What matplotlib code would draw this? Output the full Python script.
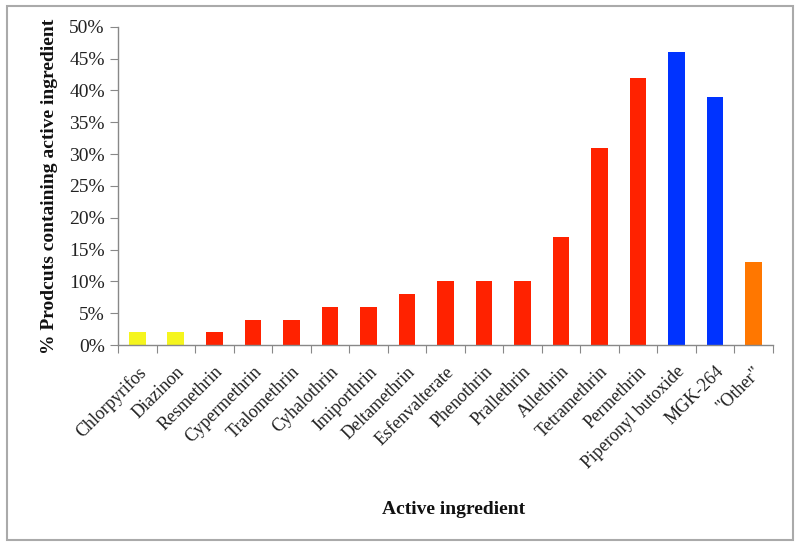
import matplotlib
matplotlib.use("Agg")
import matplotlib.pyplot as plt
from matplotlib.patches import Rectangle
from matplotlib.ticker import FuncFormatter, FixedLocator
import matplotlib.transforms as mtransforms
import numpy as np

categories = ["Chlorpyrifos", "Diazinon", "Resmethrin", "Cypermethrin", "Tralomethrin",
              "Cyhalothrin", "Imiporthrin", "Deltamethrin", "Esfenvalterate", "Phenothrin",
              "Prallethrin", "Allethrin", "Tetramethrin", "Permethrin", "Piperonyl butoxide",
              "MGK-264", "\"Other\""]
values = [2, 2, 2, 4, 4, 6, 6, 8, 10, 10, 10, 17, 31, 42, 46, 39, 13]
groups = ["op", "op", "pyr", "pyr", "pyr", "pyr", "pyr", "pyr", "pyr", "pyr", "pyr",
          "pyr", "pyr", "pyr", "syn", "syn", "oth"]
group_colors = {"op": "#F5F51E", "pyr": "#FF2200", "syn": "#0033FF", "oth": "#FF7700"}

plt.rcParams['font.family'] = ['Liberation Serif', 'DejaVu Serif']

fig = plt.figure(figsize=(8, 5.47), dpi=100)
ax = fig.add_axes([0.1475, 0.369, 0.8185, 0.582])

x = np.arange(len(categories))
ax.bar(x, values, width=0.43, color=[group_colors[g] for g in groups], zorder=2)

ax.set_xlim(-0.5, len(categories) - 0.5)
ax.set_ylim(0, 50)
ax.set_yticks(np.arange(0, 51, 5))
ax.yaxis.set_major_formatter(FuncFormatter(lambda v, p: f"{int(v)}%"))

ax.xaxis.set_major_locator(FixedLocator(np.arange(-0.5, len(categories), 1.0)))
ax.xaxis.set_minor_locator(FixedLocator(x))
ax.set_xticklabels([])
labels = ax.set_xticklabels(categories, minor=True, rotation=45, ha='right',
                            rotation_mode='anchor', fontsize=13, color='#222222')
offset = mtransforms.ScaledTranslation(5 / 100, 0, fig.dpi_scale_trans)
for lab in labels:
    lab.set_transform(lab.get_transform() + offset)
ax.tick_params(axis='x', which='major', length=6, color='#888888', direction='out')
ax.tick_params(axis='x', which='minor', length=0, pad=13)
ax.tick_params(axis='y', length=6, color='#888888', labelsize=14, labelcolor='#222222')

for s in ['top', 'right']:
    ax.spines[s].set_visible(False)
for s in ['left', 'bottom']:
    ax.spines[s].set_color('#888888')
    ax.spines[s].set_linewidth(1.0)

ax.set_ylabel("% Prodcuts containing active ingredient", fontsize=14, fontweight='bold',
              color='#111111', labelpad=8)
fig.text(0.5675, 1 - 509 / 547, "Active ingredient", fontsize=14, fontweight='bold',
         color='#111111', ha='center', va='center')

fig.patches.append(Rectangle((7 / 800, 1 - 540 / 547), 786 / 800, 534 / 547,
                             transform=fig.transFigure, fill=False,
                             edgecolor='#aaaaaa', linewidth=1.5))

fig.savefig("out.png", dpi=100)
